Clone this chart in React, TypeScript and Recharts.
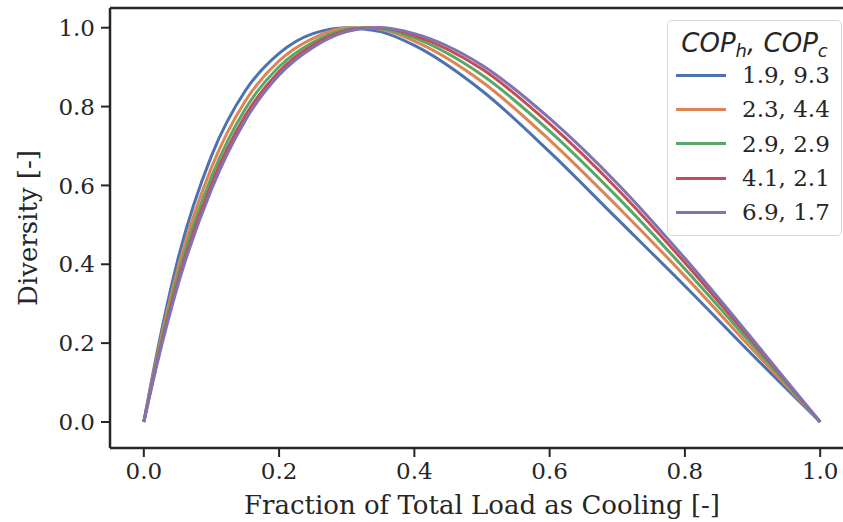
import { LineChart, Line, XAxis, YAxis, Legend, ReferenceLine } from 'recharts';

// fraction of total load as cooling
const fraction = [0, 0.02, 0.05, 0.1, 0.15, 0.2, 0.25, 0.3, 0.325, 0.35, 0.4, 0.5, 0.6, 0.7, 0.8, 0.9, 1];

// diversity, one array per (COP_h, COP_c) pair
const cop19_93 = [0, 0.18, 0.41, 0.675, 0.84, 0.935, 0.985, 1.0, 0.997, 0.99, 0.955, 0.84, 0.685, 0.515, 0.345, 0.17, 0];
const cop23_44 = [0, 0.17, 0.387, 0.645, 0.814, 0.916, 0.973, 0.999, 0.999, 0.996, 0.966, 0.863, 0.715, 0.547, 0.37, 0.184, 0];
const cop29_29 = [0, 0.161, 0.37, 0.622, 0.794, 0.901, 0.963, 0.996, 1.0, 0.998, 0.974, 0.88, 0.738, 0.571, 0.388, 0.195, 0];
const cop41_21 = [0, 0.155, 0.355, 0.604, 0.777, 0.889, 0.956, 0.993, 0.999, 1.0, 0.98, 0.895, 0.756, 0.591, 0.404, 0.204, 0];
const cop69_17 = [0, 0.15, 0.345, 0.59, 0.765, 0.88, 0.95, 0.99, 0.998, 1.0, 0.985, 0.905, 0.77, 0.605, 0.415, 0.21, 0];

const seriesNames = ['1.9, 9.3', '2.3, 4.4', '2.9, 2.9', '4.1, 2.1', '6.9, 1.7'];
const seriesValues = [cop19_93, cop23_44, cop29_29, cop41_21, cop69_17];
const colors = ['#4C72B0', '#DD8452', '#55A868', '#C44E52', '#8172B3'];

const ticks = [0, 0.2, 0.4, 0.6, 0.8, 1.0];

const data = fraction.map((x, i) => {
  const row: Record<string, number> = { x };
  seriesValues.forEach((vals, s) => {
    row['s' + s] = vals[i];
  });
  return row;
});

const ink = '#262626';
const serif = 'DejaVu Serif';
const yTop = 1.05;

const renderLegend = (props: any) => {
  const items = props.payload || [];
  return (
    <div
      style={{
        width: 175,
        height: 216,
        boxSizing: 'border-box',
        border: '1px solid #d6d6d6',
        borderRadius: 5,
        background: 'rgba(255,255,255,0.8)',
        color: ink,
        paddingTop: 7,
      }}
    >
      <div
        style={{
          fontFamily: 'DejaVu Sans',
          fontStyle: 'oblique',
          fontSize: 26,
          lineHeight: '30px',
          height: 30,
          textAlign: 'center',
          whiteSpace: 'nowrap',
        }}
      >
        COP<sub style={{ fontSize: 18, verticalAlign: -5, lineHeight: 0 }}>h</sub>, COP
        <sub style={{ fontSize: 18, verticalAlign: -5, lineHeight: 0 }}>c</sub>
      </div>
      {items.map((it: any) => (
        <div key={it.value} style={{ display: 'flex', alignItems: 'center', height: 34.3 }}>
          <div style={{ marginLeft: 8, width: 50, height: 3, background: it.color }} />
          <span style={{ marginLeft: 16, fontFamily: serif, fontSize: 23 }}>{it.value}</span>
        </div>
      ))}
    </div>
  );
};

export default function App() {
  return (
    <div
      style={{
        position: 'fixed',
        left: 0,
        top: 0,
        width: 843,
        height: 522,
        overflow: 'hidden',
        background: '#fff',
      }}
    >
      <LineChart width={860} height={522} data={data} margin={{ top: 8, right: 6, left: 0, bottom: 0 }}>
        <XAxis
          dataKey="x"
          type="number"
          domain={[-0.05, 1.05]}
          ticks={ticks}
          tickFormatter={(v: number) => v.toFixed(1)}
          height={74}
          axisLine={{ stroke: ink, strokeWidth: 2.5 }}
          tickLine={{ stroke: ink, strokeWidth: 2 }}
          tickSize={9}
          tickMargin={6}
          tick={{ fill: ink, fontFamily: serif, fontSize: 23 }}
          allowDataOverflow
          label={{
            value: 'Fraction of Total Load as Cooling [-]',
            position: 'insideBottom',
            offset: 8,
            fill: ink,
            fontFamily: serif,
            fontSize: 26,
          }}
        />
        <YAxis
          type="number"
          domain={[-0.066, yTop]}
          ticks={ticks}
          tickFormatter={(v: number) => v.toFixed(1)}
          width={110}
          axisLine={{ stroke: ink, strokeWidth: 2.5 }}
          tickLine={{ stroke: ink, strokeWidth: 2 }}
          tickSize={9}
          tickMargin={6}
          tick={{ fill: ink, fontFamily: serif, fontSize: 23 }}
          allowDataOverflow
          label={{
            value: 'Diversity [-]',
            angle: -90,
            position: 'insideLeft',
            offset: 28,
            style: { textAnchor: 'middle' },
            fill: ink,
            fontFamily: serif,
            fontSize: 26,
          }}
        />
        <ReferenceLine y={yTop} stroke={ink} strokeWidth={2.5} ifOverflow="visible" />
        <Legend
          layout="vertical"
          align="center"
          verticalAlign="middle"
          content={renderLegend}
          wrapperStyle={{ left: 667, top: 20, width: 175, height: 216 }}
        />
        {seriesNames.map((name, s) => (
          <Line
            key={name}
            type="monotone"
            dataKey={'s' + s}
            name={name}
            stroke={colors[s]}
            strokeWidth={3}
            dot={false}
            isAnimationActive={false}
          />
        ))}
      </LineChart>
    </div>
  );
}
